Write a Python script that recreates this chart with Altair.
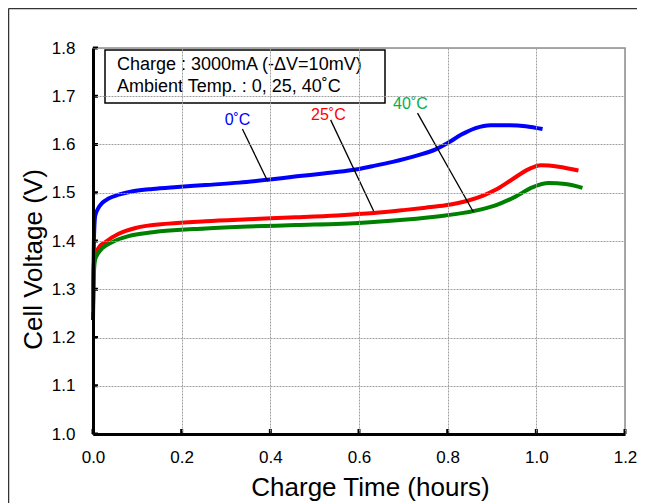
import altair as alt
import pandas as pd

# ---- data ----
blue_x = [0.000, 0.002, 0.005, 0.012, 0.021, 0.035, 0.058, 0.090, 0.134, 0.190, 0.254, 0.330,
          0.394, 0.460, 0.520, 0.585, 0.630, 0.676, 0.730, 0.773, 0.800, 0.830, 0.863, 0.897,
          0.940, 0.976, 1.014]
blue_y = [1.236, 1.400, 1.452, 1.468, 1.479, 1.488, 1.496, 1.503, 1.508, 1.512, 1.516, 1.521,
          1.527, 1.534, 1.540, 1.547, 1.555, 1.564, 1.577, 1.590, 1.603, 1.620, 1.634, 1.640,
          1.640, 1.638, 1.632]

red_x = [0.000, 0.001, 0.003, 0.012, 0.028, 0.058, 0.096, 0.170, 0.254, 0.350, 0.457, 0.550,
         0.633, 0.700, 0.750, 0.795, 0.847, 0.880, 0.908, 0.946, 0.983, 1.010, 1.050, 1.095]
red_y = [1.253, 1.340, 1.362, 1.385, 1.398, 1.415, 1.427, 1.436, 1.441, 1.445, 1.449, 1.453,
         1.458, 1.464, 1.469, 1.474, 1.484, 1.494, 1.506, 1.528, 1.549, 1.557, 1.554, 1.546]

green_x = [0.000, 0.002, 0.005, 0.012, 0.021, 0.044, 0.080, 0.134, 0.254, 0.350, 0.457, 0.608,
           0.700, 0.795, 0.858, 0.908, 0.953, 0.991, 1.028, 1.066, 1.104]
green_y = [1.265, 1.334, 1.362, 1.375, 1.385, 1.398, 1.410, 1.418, 1.426, 1.430, 1.433, 1.438,
           1.444, 1.453, 1.462, 1.474, 1.492, 1.511, 1.520, 1.518, 1.510]

series_names = ["0˚C", "25˚C", "40˚C"]
series_colors = ["#0000FF", "#FF0000", "#008000"]
label_colors = ["#0000FF", "#FF0000", "#00B050"]

# annotation label anchors and leader lines (data coordinates)
label_x = [0.326, 0.531, 0.716]
label_y = [1.650, 1.662, 1.684]
lead_x1 = [0.337, 0.536, 0.732]
lead_y1 = [1.632, 1.651, 1.665]
lead_x2 = [0.394, 0.633, 0.858]
lead_y2 = [1.524, 1.462, 1.460]

x_ticks = [0.0, 0.2, 0.4, 0.6, 0.8, 1.0, 1.2]
y_ticks = [1.0, 1.1, 1.2, 1.3, 1.4, 1.5, 1.6, 1.7, 1.8]

info_line1 = "Charge : 3000mA (-ΔV=10mV)"
info_line2 = "Ambient Temp. : 0, 25, 40˚C"

FONT = "Liberation Sans"
W, H = 532, 386
PAD_L, PAD_T, PAD_R, PAD_B = 85, 40, 12, 69

rows = []
for name, xs, ys in zip(series_names, [blue_x, red_x, green_x], [blue_y, red_y, green_y]):
    for i, (a, b) in enumerate(zip(xs, ys)):
        rows.append({"series": name, "t": a, "v": b, "order": i})
curves = pd.DataFrame(rows)

ann = pd.DataFrame({
    "series": series_names, "lx": label_x, "ly": label_y,
    "x1": lead_x1, "y1": lead_y1, "x2": lead_x2, "y2": lead_y2,
})

xscale = alt.Scale(domain=[0, 1.2], nice=False, zero=False)
yscale = alt.Scale(domain=[1.0, 1.8], nice=False, zero=False)
color_scale = alt.Scale(domain=series_names, range=series_colors)

xaxis = alt.Axis(values=x_ticks, format=".1f", title="Charge Time (hours)",
                 grid=True, ticks=False, labelPadding=15, labelFontSize=17, labelFlush=False,
                 titleFontSize=26, titleFontWeight="normal", titleX=277, titleY=61,
                 titleBaseline="alphabetic", titleAlign="center", zindex=1)
yaxis = alt.Axis(values=y_ticks, format=".1f", title="Cell Voltage (V)",
                 grid=True, ticks=False, labelPadding=18, labelFontSize=17, labelFlush=False,
                 titleFontSize=26, titleFontWeight="normal", titleX=-60, titleY=211,
                 titleAngle=-90, titleBaseline="middle", titleAlign="center", zindex=1)

lines = alt.Chart(curves).mark_line(strokeWidth=4, interpolate="monotone").encode(
    x=alt.X("t:Q", scale=xscale, axis=xaxis),
    y=alt.Y("v:Q", scale=yscale, axis=yaxis),
    color=alt.Color("series:N", scale=color_scale, legend=None),
    order="order:Q",
)

leaders = alt.Chart(ann).mark_rule(color="black", strokeWidth=1.3).encode(
    x="x1:Q", y="y1:Q", x2="x2:Q", y2="y2:Q"
)

label_layers = []
for name, col, lx, ly in zip(series_names, label_colors, label_x, label_y):
    d = pd.DataFrame({"series": [name], "lx": [lx], "ly": [ly]})
    label_layers.append(
        alt.Chart(d).mark_text(fontSize=16, font=FONT, align="center", baseline="middle",
                               color=col).encode(x="lx:Q", y="ly:Q", text="series:N")
    )

one = pd.DataFrame({"a": [0]})
box = alt.Chart(one).mark_rect(fill="white", stroke="black", strokeWidth=1.5).encode(
    x=alt.value(12), x2=alt.value(292), y=alt.value(2), y2=alt.value(55)
)
info1 = alt.Chart(pd.DataFrame({"txt": [info_line1]})).mark_text(
    fontSize=18, font=FONT, align="left", baseline="middle", color="black"
).encode(x=alt.value(24), y=alt.value(17), text="txt:N")
info2 = alt.Chart(pd.DataFrame({"txt": [info_line2]})).mark_text(
    fontSize=18, font=FONT, align="left", baseline="middle", color="black"
).encode(x=alt.value(24), y=alt.value(39), text="txt:N")

ytick_df = pd.DataFrame({"v": y_ticks})
xtick_df = pd.DataFrame({"t": x_ticks})
yticks = alt.Chart(ytick_df).mark_rule(color="black", strokeWidth=3).encode(
    y=alt.Y("v:Q", scale=yscale), x=alt.value(0), x2=alt.value(5)
)
xticks = alt.Chart(xtick_df).mark_rule(color="black", strokeWidth=3).encode(
    x=alt.X("t:Q", scale=xscale), y=alt.value(H), y2=alt.value(H - 5)
)

frame_top = alt.Chart(one).mark_rule(color="#333333", strokeWidth=1.5).encode(
    x=alt.value(-PAD_L + 0.5), x2=alt.value(W + PAD_R), y=alt.value(-PAD_T + 0.5)
)
frame_left = alt.Chart(one).mark_rule(color="#333333", strokeWidth=1.5).encode(
    x=alt.value(-PAD_L + 0.5), y=alt.value(-PAD_T + 0.5), y2=alt.value(H + PAD_B)
)

chart = alt.layer(
    lines, leaders, *label_layers, box, info1, info2, yticks, xticks, frame_top, frame_left
).properties(
    width=W, height=H,
    autosize=alt.AutoSizeParams(type="none"),
    padding={"left": PAD_L, "top": PAD_T, "right": PAD_R, "bottom": PAD_B},
).configure(font=FONT).configure_view(
    stroke="#8c8c8c", strokeWidth=1.5
).configure_axis(
    domainColor="black", domainWidth=3, labelColor="black", titleColor="black",
    gridColor="#a0a0a0", gridDash=[2, 1], gridWidth=1, labelFont=FONT, titleFont=FONT,
)

chart.save("out.html", embed_options={"renderer": "svg", "actions": False})
